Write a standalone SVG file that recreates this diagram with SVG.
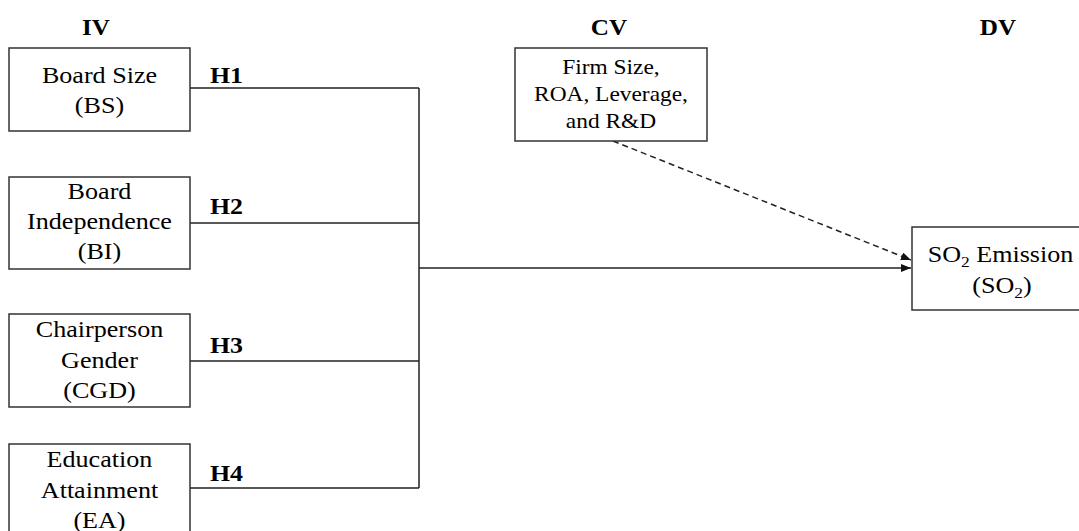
<svg xmlns="http://www.w3.org/2000/svg" width="1079" height="531" viewBox="0 0 1079 531">
<style>
  .box { fill: #fff; stroke: #333; stroke-width: 1.5; }
  .t { font-family: "Liberation Serif", "Times New Roman", serif; font-size: 22.5px; fill: #000; text-anchor: middle; transform-box: fill-box; transform-origin: center; transform: scaleX(1.16); }
  .s { font-family: "Liberation Serif", "Times New Roman", serif; font-size: 20px; fill: #000; text-anchor: middle; transform-box: fill-box; transform-origin: center; transform: scaleX(1.17); }
  .h { font-family: "Liberation Serif", "Times New Roman", serif; font-size: 22.5px; font-weight: bold; fill: #000; transform-box: fill-box; transform-origin: left center; transform: scaleX(1.15); }
  .hd { font-family: "Liberation Serif", "Times New Roman", serif; font-size: 22.5px; font-weight: bold; fill: #000; text-anchor: middle; transform-box: fill-box; transform-origin: center; transform: scaleX(1.12); }
  .ln { fill: none; stroke: #222; stroke-width: 1.5; }
  .dash { fill: none; stroke: #222; stroke-width: 1.5; stroke-dasharray: 6 4; }
</style>
<defs>
  <marker id="arr" markerWidth="10" markerHeight="8" refX="10" refY="4" orient="auto" markerUnits="userSpaceOnUse">
    <path d="M0,0 L10,4 L0,8 Z" fill="#111"/>
  </marker>
</defs>
<rect width="1079" height="531" fill="#fff"/>

<g id="headers">
  <text class="hd" x="96" y="35">IV</text>
  <text class="hd" x="609" y="35">CV</text>
  <text class="hd" x="998" y="35">DV</text>
</g>

<g id="connectors">
  <path class="ln" d="M190,88 H419 M190,223 H419 M190,361 H419 M190,488 H419 M419,88 V488"/>
  <path class="ln" d="M419,268 H911" marker-end="url(#arr)"/>
  <path class="dash" d="M613,141 L911,260" marker-end="url(#arr)"/>
  <text class="h" x="210" y="83">H1</text>
  <text class="h" x="210" y="214">H2</text>
  <text class="h" x="210" y="353">H3</text>
  <text class="h" x="210" y="481">H4</text>
</g>

<g id="node-bs">
  <rect class="box" x="9" y="48" width="181" height="83"/>
  <text class="t" x="99.5" y="83">Board Size</text>
  <text class="t" x="99.5" y="113">(BS)</text>
</g>

<g id="node-bi">
  <rect class="box" x="9" y="177" width="181" height="92"/>
  <text class="t" x="99.5" y="199">Board</text>
  <text class="t" x="99.5" y="229">Independence</text>
  <text class="t" x="99.5" y="259">(BI)</text>
</g>

<g id="node-cgd">
  <rect class="box" x="9" y="314" width="181" height="93"/>
  <text class="t" x="99.5" y="337">Chairperson</text>
  <text class="t" x="99.5" y="368">Gender</text>
  <text class="t" x="99.5" y="398">(CGD)</text>
</g>

<g id="node-ea">
  <rect class="box" x="9" y="444" width="181" height="100"/>
  <text class="t" x="99.5" y="467">Education</text>
  <text class="t" x="99.5" y="498">Attainment</text>
  <text class="t" x="99.5" y="528">(EA)</text>
</g>

<g id="node-cv">
  <rect class="box" x="515" y="48" width="192" height="93"/>
  <text class="s" x="611" y="74">Firm Size,</text>
  <text class="s" x="611" y="101">ROA, Leverage,</text>
  <text class="s" x="611" y="128">and R&amp;D</text>
</g>

<g id="node-so2">
  <rect class="box" x="912" y="227" width="180" height="83"/>
  <text class="t" x="1000.5" y="262">SO<tspan font-size="15" dy="5">2</tspan><tspan dy="-5"> Emission</tspan></text>
  <text class="t" x="1002" y="293">(SO<tspan font-size="15" dy="5">2</tspan><tspan dy="-5">)</tspan></text>
</g>
</svg>
